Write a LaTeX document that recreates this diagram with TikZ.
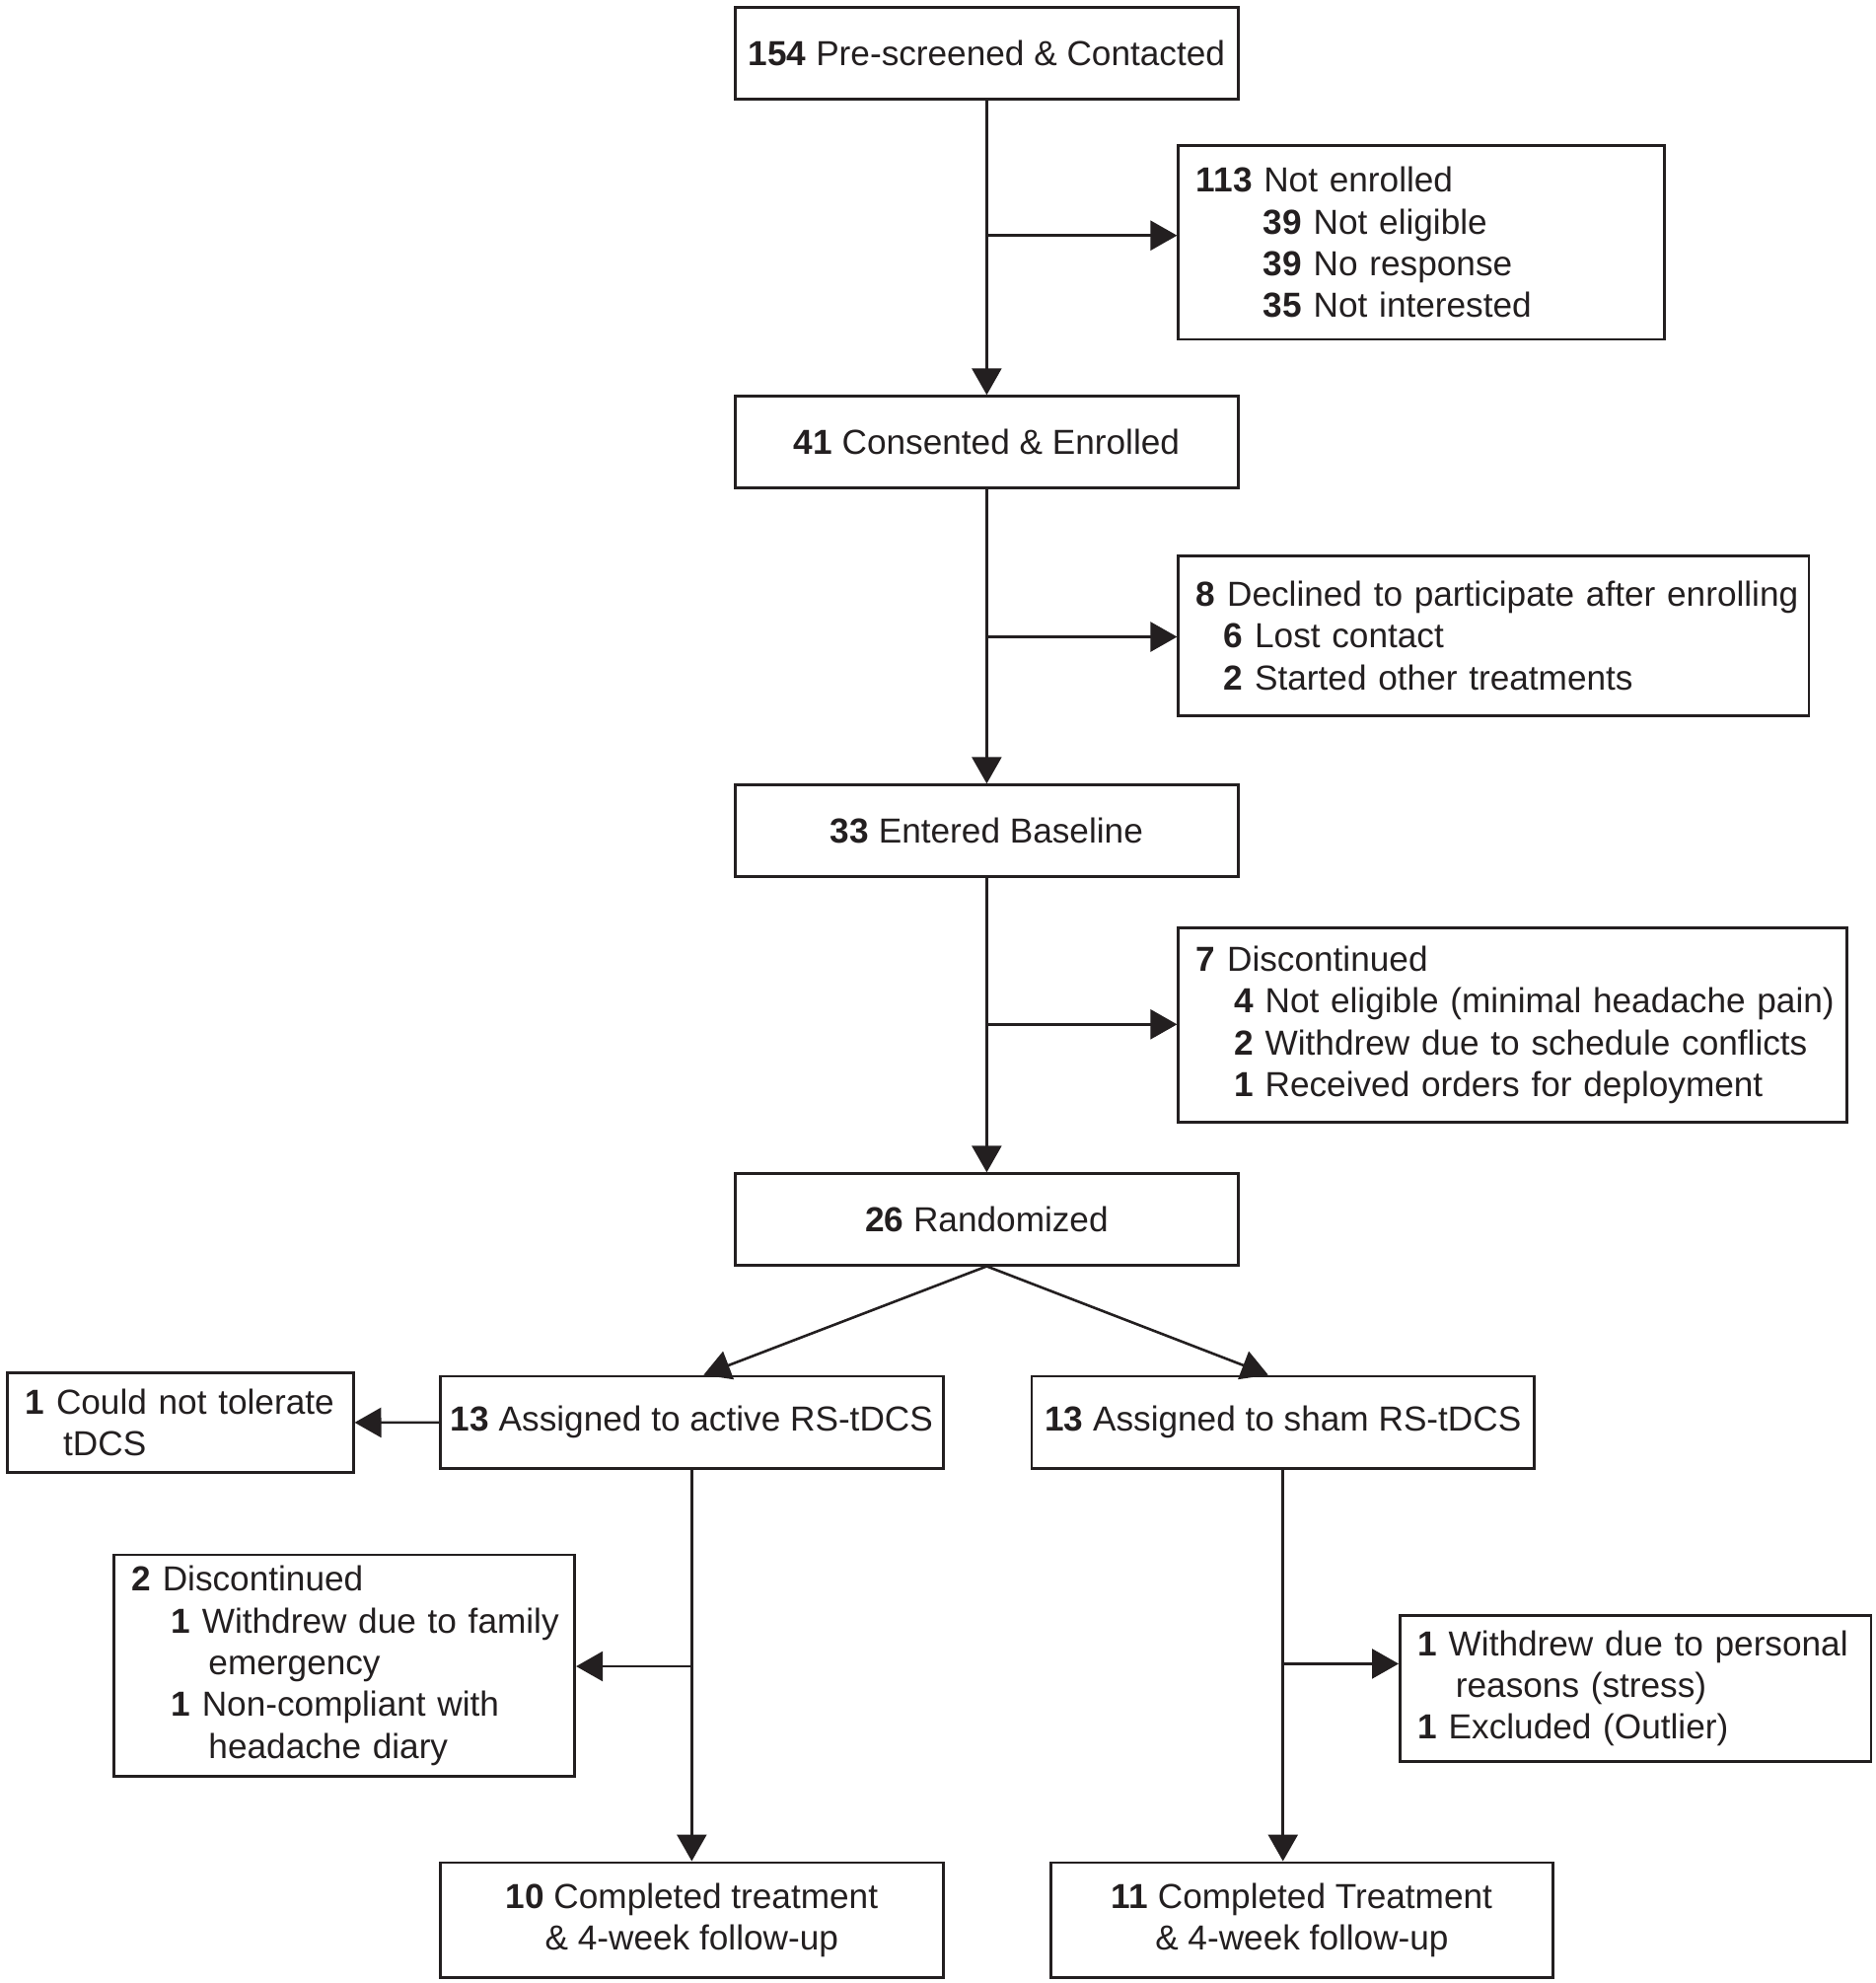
\documentclass[tikz,border=0pt]{standalone}
\usepackage{fontspec}
\setmainfont{Liberation Sans}
\usetikzlibrary{arrows.meta,calc}
\newcommand\fsz{\fontsize{17.6pt}{21.2pt}\selectfont}
\newcommand\txtline[2][0pt]{\mbox{\hspace*{#1}#2}}
\definecolor{ink}{HTML}{231F20}
\begin{document}
\begin{tikzpicture}[x=0.5pt,y=-0.5pt,
  box/.style={draw=ink, text=ink, line width=1.4pt, rectangle, inner sep=0pt, font=\fsz},
  mbox/.style={box, align=center, minimum width=254.8pt, minimum height=46.2pt},
  lbox/.style={box, align=left, inner xsep=9pt, text width=#1},
  conn/.style={draw=ink, line width=1.3pt, -{Triangle[length=13.5pt,width=15pt]}}]
\path[use as bounding box] (0,0) rectangle (1902,2010);

% main column
\node[mbox] (b1) at (1000.4,53.9) {\textbf{154} Pre-screened \& Contacted};
\node[mbox] (b2) at (1000.4,447.9) {\textbf{41} Consented \& Enrolled};
\node[mbox] (b3) at (1000.4,841.9) {\textbf{33} Entered Baseline};
\node[mbox] (b4) at (1000.4,1235.9) {\textbf{26} Randomized};

% side boxes
\node[lbox=228.45pt, minimum width=246.45pt, minimum height=98.2pt] (s1) at (1441.25,245.8)
  {\txtline{\textbf{113} Not enrolled}\\
   \txtline[34pt]{\textbf{39} Not eligible}\\
   \txtline[34pt]{\textbf{39} No response}\\
   \txtline[34pt]{\textbf{35} Not interested}};
\node[lbox=301.6pt, minimum width=319.6pt, minimum height=80.85pt] (s2) at (1514.4,644.25)
  {\txtline{\textbf{8} Declined to participate after enrolling}\\
   \txtline[14pt]{\textbf{6} Lost contact}\\
   \txtline[14pt]{\textbf{2} Started other treatments}};
\node[lbox=320.85pt, minimum width=338.85pt, minimum height=98.2pt] (s3) at (1533.65,1038.9)
  {\txtline{\textbf{7} Discontinued}\\
   \txtline[19.25pt]{\textbf{4} Not eligible (minimal headache pain)}\\
   \txtline[19.25pt]{\textbf{2} Withdrew due to schedule conflicts}\\
   \txtline[19.25pt]{\textbf{1} Received orders for deployment}};

% arms
\node[box, align=center, minimum width=254.75pt, minimum height=46.85pt] (act) at (701.35,1441.85)
  {\textbf{13} Assigned to active RS-tDCS};
\node[box, align=center, minimum width=254.75pt, minimum height=46.85pt] (sham) at (1300.75,1441.85)
  {\textbf{13} Assigned to sham RS-tDCS};
\node[lbox=157.2pt, minimum width=175.2pt, minimum height=50.7pt] (tol) at (182.9,1441.9)
  {\txtline{\textbf{1} Could not tolerate}\\
   \txtline[19.25pt]{tDCS}};
\node[lbox=215.6pt, minimum width=233.6pt, minimum height=112.3pt] (dl) at (349.1,1688.3)
  {\txtline{\textbf{2} Discontinued}\\
   \txtline[20pt]{\textbf{1} Withdrew due to family}\\
   \txtline[39pt]{emergency}\\
   \txtline[20pt]{\textbf{1} Non-compliant with}\\
   \txtline[39pt]{headache diary}};
\node[lbox=220.75pt, minimum width=238.75pt, minimum height=73.8pt] (dr) at (1658.15,1711.4)
  {\txtline{\textbf{1} Withdrew due to personal}\\
   \txtline[19.25pt]{reasons (stress)}\\
   \txtline{\textbf{1} Excluded (Outlier)}};
\node[box, align=center, minimum width=254.75pt, minimum height=58.4pt] (cl) at (701.35,1946.3)
  {\textbf{10} Completed treatment\\\& 4-week follow-up};
\node[box, align=center, minimum width=254.75pt, minimum height=58.4pt] (cr) at (1319.95,1946.3)
  {\textbf{11} Completed Treatment\\\& 4-week follow-up};

% junctions
\coordinate (j1) at (1000.4,238.7);
\coordinate (j2) at (1000.4,645.5);
\coordinate (j3) at (1000.4,1038.3);
\coordinate (j4) at (701.35,1689);
\coordinate (j5) at (1300.75,1686.4);

% connectors
\draw[conn] (b1.south) -- (b2.north);
\draw[conn] (b2.south) -- (b3.north);
\draw[conn] (b3.south) -- (b4.north);
\draw[conn] (j1) -- (j1 -| s1.west);
\draw[conn] (j2) -- (j2 -| s2.west);
\draw[conn] (j3) -- (j3 -| s3.west);
\draw[conn] (b4.south) -- ([xshift=6pt]act.north);
\draw[conn] (b4.south) -- ([xshift=-7.5pt]sham.north);
\draw[conn] (act.west) -- (tol.east);
\draw[conn] (act.south) -- (cl.north);
\draw[conn] (j4) -- (j4 -| dl.east);
\draw[conn] (sham.south) -- (sham.south |- cr.north);
\draw[conn] (j5) -- (j5 -| dr.west);
\end{tikzpicture}
\end{document}
